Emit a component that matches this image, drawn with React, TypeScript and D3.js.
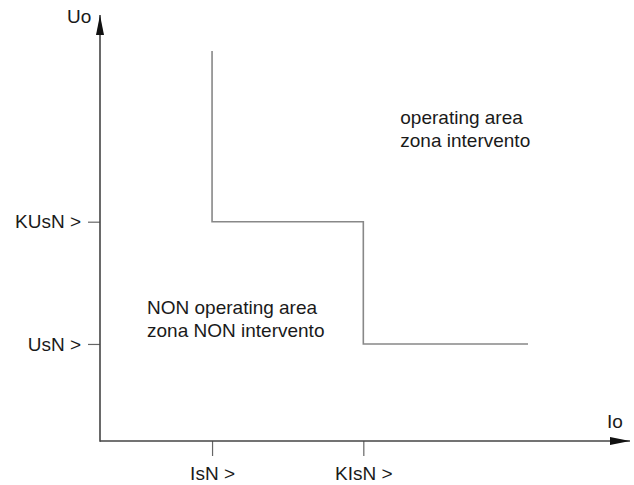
import React, { useEffect, useRef } from 'react';
import * as d3 from 'd3';

// tick positions (in "rated" units) and their labels
const xTickValues = [1, 2.35];
const xTickLabels = ['IsN >', 'KIsN >'];
const yTickValues = [1, 2.26];
const yTickLabels = ['UsN >', 'KUsN >'];

// trip characteristic (stepped line)
const curveX = [1, 1, 2.35, 2.35, 3.82];
const curveY = [4.02, 2.26, 2.26, 1, 1];

const areaLabels = [
    { lines: ['operating area', 'zona intervento'], x: 2.68, y: 3.27 },
    { lines: ['NON operating area', 'zona NON intervento'], x: 0.42, y: 1.31 },
];

const W = 634;
const H = 485;
const FONT = '"Liberation Sans", Arial, sans-serif';

const App: React.FC = () => {
    const svgRef = useRef<SVGSVGElement>(null);

    useEffect(() => {
        const svg = d3.select(svgRef.current);
        svg.selectAll('*').remove();

        const origin = { x: 100, y: 441 };
        const xScale = d3.scaleLinear().domain([0, 4.73]).range([origin.x, 630]);
        const yScale = d3.scaleLinear().domain([0, 4.39]).range([origin.y, 15]);

        const axisColor = '#444';

        // arrow heads
        const defs = svg.append('defs');
        defs.append('marker')
            .attr('id', 'arrow')
            .attr('viewBox', '0 0 20 8')
            .attr('refX', 20)
            .attr('refY', 4)
            .attr('markerWidth', 20)
            .attr('markerHeight', 8)
            .attr('markerUnits', 'userSpaceOnUse')
            .attr('orient', 'auto')
            .append('path')
            .attr('d', 'M0,0 L20,4 L0,8 Z')
            .attr('fill', '#111');

        // X axis
        const xAxis = svg.append('g')
            .attr('transform', `translate(0,${origin.y})`)
            .call(d3.axisBottom(xScale)
                .tickValues(xTickValues)
                .tickFormat((d, i) => xTickLabels[i])
                .tickSize(15)
                .tickSizeOuter(0)
                .tickPadding(11));
        xAxis.select('.domain').remove();

        // Y axis
        const yAxis = svg.append('g')
            .attr('transform', `translate(${origin.x},0)`)
            .call(d3.axisLeft(yScale)
                .tickValues(yTickValues)
                .tickFormat((d, i) => yTickLabels[i])
                .tickSize(12)
                .tickSizeOuter(0)
                .tickPadding(7));
        yAxis.select('.domain').remove();

        svg.selectAll('.tick line').attr('stroke', '#666').attr('stroke-width', 1.2);
        svg.selectAll('.tick text')
            .style('font-family', FONT)
            .style('font-size', '19px')
            .attr('fill', '#1a1a1a');

        // axis lines with arrows
        svg.append('line')
            .attr('x1', origin.x).attr('y1', origin.y)
            .attr('x2', xScale(4.73)).attr('y2', origin.y)
            .attr('stroke', axisColor).attr('stroke-width', 1.6)
            .attr('marker-end', 'url(#arrow)');
        svg.append('line')
            .attr('x1', origin.x).attr('y1', origin.y + 0.8)
            .attr('x2', origin.x).attr('y2', yScale(4.39))
            .attr('stroke', axisColor).attr('stroke-width', 1.6)
            .attr('marker-end', 'url(#arrow)');

        // axis titles
        svg.append('text')
            .attr('x', 67).attr('y', 23)
            .text('Uo');
        svg.append('text')
            .attr('x', 607).attr('y', 428)
            .text('Io');

        // stepped characteristic
        const pts = curveX.map((x, i) => [x, curveY[i]] as [number, number]);
        svg.append('path')
            .datum(pts)
            .attr('d', d3.line<[number, number]>()
                .x(d => xScale(d[0]))
                .y(d => yScale(d[1])))
            .attr('fill', 'none')
            .attr('stroke', '#888')
            .attr('stroke-width', 1.6);

        // area labels
        areaLabels.forEach(lbl => {
            const t = svg.append('text')
                .attr('x', xScale(lbl.x))
                .attr('y', yScale(lbl.y));
            lbl.lines.forEach((line, i) => {
                t.append('tspan')
                    .attr('x', xScale(lbl.x))
                    .attr('dy', i === 0 ? 0 : 23.5)
                    .text(line);
            });
        });

        svg.selectAll('svg > text')
            .style('font-family', FONT)
            .style('font-size', '19px')
            .attr('fill', '#1a1a1a');
    }, []);

    return (
        <svg
            ref={svgRef}
            width={W}
            height={H}
            style={{ position: 'absolute', left: 0, top: 0, background: '#fff' }}
        />
    );
};

export default App;
